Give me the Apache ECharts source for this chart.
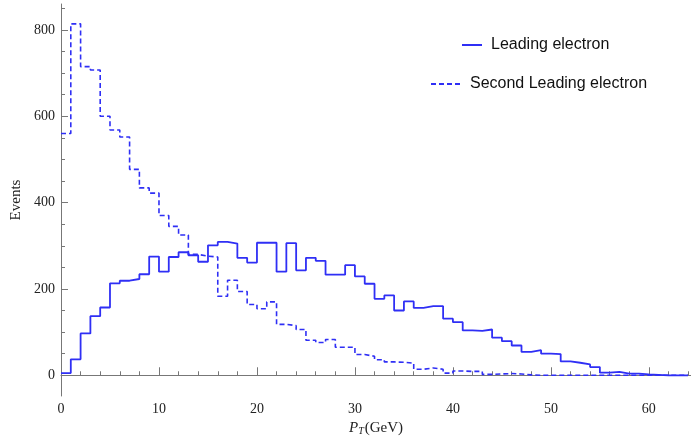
<!DOCTYPE html>
<html>
<head>
<meta charset="utf-8">
<script src="https://cdn.jsdelivr.net/npm/echarts@6/dist/echarts.min.js"></script>
<style>html,body{margin:0;padding:0;background:#fff;}#c{width:691px;height:439px;}</style>
</head>
<body>
<div id="c"></div>
<script>
// Bin lower edges (GeV), 1 GeV wide bins
var binEdges = [];
for (var i = 0; i < 64; i++) binEdges.push(i);

var leading = [5,37,97,137,157,213,219,223,234,275,
  240,274,285,278,263,301,309,305,272,261,
  307,307,240,306,243,272,265,233,233,255,
  229,212,177,185,150,171,156,160,160,131,
  123,104,103,106,87,79,69,54,58,50,
  49,32,29,25,19,6,8,4,4,2,
  1,0,0,0];

var second = [560,814,715,707,600,568,552,477,434,422,
  370,345,325,280,276,274,183,220,194,164,
  154,170,118,115,106,81,76,83,65,65,
  48,44,36,31,30,28,14,17,14,5,
  10,9,9,2,3,4,3,1,0,0,
  0,0,0,0,0,0,0,0,0,0,
  0,0,0,0];

var xMajorTicks = [0,10,20,30,40,50,60];
var xMinorTicks = [2,4,6,8,12,14,16,18,22,24,26,28,32,34,36,38,42,44,46,48,52,54,56,58,62,64];
var yMajorTicks = [0,200,400,600,800];
var yMinorTicks = [50,100,150,250,300,350,450,500,550,650,700,750,850];

function stepData(vals) {
  var d = binEdges.map(function (x, i) { return [x, vals[i]]; });
  d.push([binEdges[binEdges.length - 1] + 1, vals[vals.length - 1]]);
  return d;
}

var AX = '#777';
var TXT = '#222';
var SERIF = 'Liberation Serif';
var BLUE = '#2f2ff5';
var legendItemStyle = {color: 'rgba(0,0,0,0)', borderWidth: 0, opacity: 0};

var chart = echarts.init(document.getElementById('c'), null, {renderer: 'canvas'});
chart.setOption({
  animation: false,
  backgroundColor: '#fff',
  grid: {left: 61, right: 0, top: 4, bottom: 43, containLabel: false, outerBoundsMode: 'none'},
  legend: [
    {data: ['Leading electron'], left: 461, top: 37, padding: 0, itemWidth: 20, itemHeight: 14,
     itemStyle: legendItemStyle,
     textStyle: {fontFamily: 'Liberation Sans', fontSize: 16, color: '#111', padding: [0,0,0,4]}},
    {data: ['Second Leading electron'], left: 430, top: 76, padding: 0, itemWidth: 29, itemHeight: 14,
     itemStyle: legendItemStyle,
     textStyle: {fontFamily: 'Liberation Sans', fontSize: 16, color: '#111', padding: [0,0,0,5]}}
  ],
  xAxis: [
    {type: 'value', min: 0, max: 64.3, position: 'bottom',
     axisLine: {show: true, lineStyle: {color: AX, width: 1}},
     axisTick: {show: true, inside: true, length: 8, customValues: xMajorTicks, lineStyle: {color: AX}},
     axisLabel: {customValues: xMajorTicks, fontFamily: SERIF, fontSize: 14, color: TXT, margin: 6},
     splitLine: {show: false},
     name: '{p|P}{t|T}{g|(GeV)}', nameLocation: 'middle', nameGap: 24,
     nameTextStyle: {rich: {
       p: {fontFamily: SERIF, fontStyle: 'italic', fontSize: 15, color: TXT},
       t: {fontFamily: SERIF, fontStyle: 'italic', fontSize: 10, color: TXT, verticalAlign: 'bottom', padding: [0,1,0,0]},
       g: {fontFamily: SERIF, fontSize: 15, color: TXT}
     }}
    },
    {type: 'value', min: 0, max: 64.3, position: 'bottom',
     axisLine: {show: false},
     axisTick: {show: true, inside: true, length: 4, customValues: xMinorTicks, lineStyle: {color: AX}},
     axisLabel: {show: false},
     splitLine: {show: false}
    }
  ],
  yAxis: [
    {type: 'value', min: -48, max: 860, position: 'left',
     axisLine: {show: true, lineStyle: {color: AX, width: 1}},
     axisTick: {show: true, inside: true, length: 7, customValues: yMajorTicks, lineStyle: {color: AX}},
     axisLabel: {customValues: yMajorTicks, fontFamily: SERIF, fontSize: 14, color: TXT, margin: 6},
     splitLine: {show: false},
     name: 'Events', nameLocation: 'middle', nameGap: 37, nameRotate: 90,
     nameTextStyle: {fontFamily: SERIF, fontSize: 15, color: TXT}
    },
    {type: 'value', min: -48, max: 860, position: 'left',
     axisLine: {show: false},
     axisTick: {show: true, inside: true, length: 4, customValues: yMinorTicks, lineStyle: {color: AX}},
     axisLabel: {show: false},
     splitLine: {show: false}
    }
  ],
  series: [
    {name: 'Leading electron', type: 'line', step: 'end', xAxisIndex: 0, yAxisIndex: 0,
     data: stepData(leading), showSymbol: false, symbol: 'none', color: BLUE,
     lineStyle: {color: BLUE, width: 1.8, type: 'solid'}},
    {name: 'Second Leading electron', type: 'line', step: 'end', xAxisIndex: 0, yAxisIndex: 0,
     data: stepData(second), showSymbol: false, symbol: 'none', color: BLUE,
     lineStyle: {color: BLUE, width: 1.6, type: [5, 3]}}
  ]
});
</script>
</body>
</html>
